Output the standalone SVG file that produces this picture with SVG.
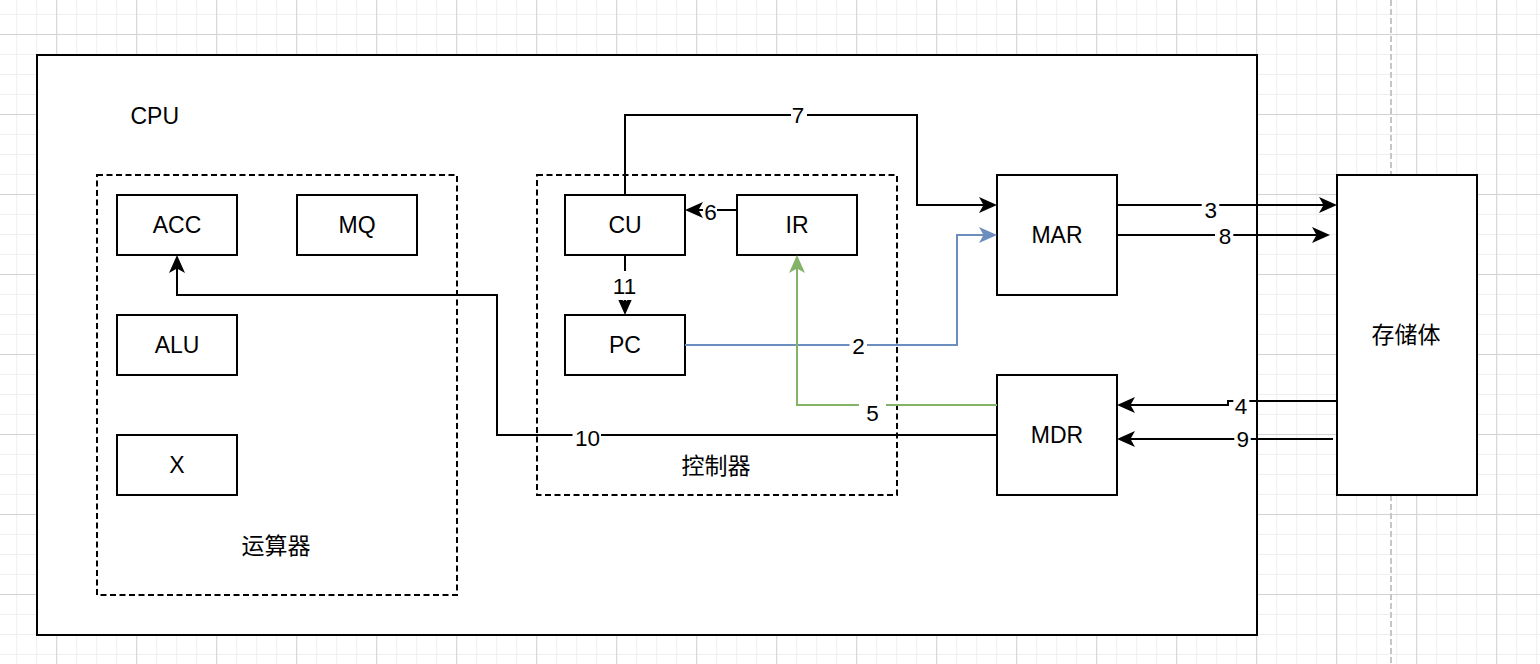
<svg xmlns="http://www.w3.org/2000/svg" width="1540" height="664" viewBox="0 0 1540 664">
<style>
.box{fill:#fff;stroke:#000;stroke-width:2}
.grp{fill:none;stroke:#000;stroke-width:2;stroke-dasharray:6 3.5}
.nt{font-family:"Liberation Sans",Arial,sans-serif;font-size:23px;fill:#000;text-anchor:middle}
.cj{font-family:"Liberation Sans","Noto Sans CJK SC",sans-serif;font-size:23px;fill:#000;text-anchor:middle}
.el{font-family:"Liberation Sans",Arial,sans-serif;font-size:22.5px;fill:#000;text-anchor:middle}
.lb{fill:#fff;stroke:none}
.ek{fill:none;stroke:#000;stroke-width:2;marker-end:url(#ak)}
.eb{fill:none;stroke:#6c8ebf;stroke-width:2;marker-end:url(#ab)}
.eg{fill:none;stroke:#82b366;stroke-width:2;marker-end:url(#ag)}
</style>
<defs>
<pattern id="minor" x="16.2" y="14" width="20" height="20" patternUnits="userSpaceOnUse">
<path d="M0.5 0V20M0 0.5H20" stroke="#efefef" stroke-width="1" fill="none"/>
</pattern>
<pattern id="major" x="56.2" y="34" width="80" height="80" patternUnits="userSpaceOnUse">
<path d="M0.5 0V80M0 0.5H80" stroke="#d3d3d3" stroke-width="1" fill="none"/>
</pattern>
<marker id="ak" markerUnits="userSpaceOnUse" markerWidth="19" markerHeight="18" refX="13" refY="9" orient="auto" overflow="visible">
<path d="M0,1 L18,9 L0,17 L4.5,9 Z" fill="#000"/>
</marker>
<marker id="ab" markerUnits="userSpaceOnUse" markerWidth="19" markerHeight="18" refX="13" refY="9" orient="auto" overflow="visible">
<path d="M0,1 L18,9 L0,17 L4.5,9 Z" fill="#6c8ebf"/>
</marker>
<marker id="ag" markerUnits="userSpaceOnUse" markerWidth="19" markerHeight="18" refX="13" refY="9" orient="auto" overflow="visible">
<path d="M0,1 L18,9 L0,17 L4.5,9 Z" fill="#82b366"/>
</marker>
</defs>
<rect width="1540" height="664" fill="#fff"/>
<rect width="1540" height="664" fill="url(#minor)"/>
<rect width="1540" height="664" fill="url(#major)"/>
<line x1="1391" y1="0" x2="1391" y2="664" stroke="#c6c6c6" stroke-width="2" stroke-dasharray="6 3"/>

<g id="cpu">
<rect class="box" x="37" y="55" width="1220" height="580"/>
<text x="130.5" y="124" font-family="Liberation Sans,Arial,sans-serif" font-size="23" fill="#000">CPU</text>
</g>
<g id="alu-group">
<rect class="grp" x="97" y="175" width="360" height="420"/>
<text class="cj" x="276" y="554">运算器</text>
</g>
<g id="ctrl-group">
<rect class="grp" x="537" y="175" width="360" height="320"/>
<text class="cj" x="716" y="474">控制器</text>
</g>
<g id="acc"><rect class="box" x="117" y="195" width="120" height="60"/><text class="nt" x="177" y="233">ACC</text></g>
<g id="mq"><rect class="box" x="297" y="195" width="120" height="60"/><text class="nt" x="357" y="233">MQ</text></g>
<g id="alu"><rect class="box" x="117" y="315" width="120" height="60"/><text class="nt" x="177" y="353">ALU</text></g>
<g id="x"><rect class="box" x="117" y="435" width="120" height="60"/><text class="nt" x="177" y="473">X</text></g>
<g id="cu"><rect class="box" x="565" y="195" width="120" height="60"/><text class="nt" x="625" y="233">CU</text></g>
<g id="ir"><rect class="box" x="737" y="195" width="120" height="60"/><text class="nt" x="797" y="233">IR</text></g>
<g id="pc"><rect class="box" x="565" y="315" width="120" height="60"/><text class="nt" x="625" y="353">PC</text></g>
<g id="mar"><rect class="box" x="997" y="175" width="120" height="120"/><text class="nt" x="1057" y="243">MAR</text></g>
<g id="mdr"><rect class="box" x="997" y="375" width="120" height="120"/><text class="nt" x="1057" y="443">MDR</text></g>
<g id="memory"><rect class="box" x="1337" y="175" width="140" height="320"/><text class="cj" x="1406" y="343">存储体</text></g>

<g id="connectors">
<path class="ek" d="M625,195 V115 H917 V205 H992"/>
<path class="ek" d="M737,210 H690"/>
<path class="ek" d="M625,255 V310"/>
<path class="eb" d="M685,345 H957 V235 H992"/>
<path class="eg" d="M997,405 H797 V260"/>
<path class="ek" d="M997,435 H497 V295 H177 V260"/>
<path class="ek" d="M1117,205 H1332"/>
<path class="ek" d="M1117,235 H1325"/>
<path class="ek" d="M1337,401 H1228 V405 H1122"/>
<path class="ek" d="M1333,439 H1122"/>

<rect class="lb" x="791" y="105" width="16" height="22"/><text class="el" x="798" y="123">7</text>
<rect class="lb" x="703" y="200" width="14" height="22"/><text class="el" x="710.5" y="220">6</text>
<rect class="lb" x="611" y="271" width="27" height="29"/><text class="el" x="624.5" y="294">11</text>
<rect class="lb" x="849.5" y="335" width="17.5" height="22"/><text class="el" x="858.5" y="354">2</text>
<rect class="lb" x="859" y="400" width="27" height="24"/><text class="el" x="872.5" y="421">5</text>
<rect class="lb" x="572.5" y="425" width="28.5" height="24"/><text class="el" x="587.5" y="446">10</text>
<rect class="lb" x="1201.7" y="196" width="17.6" height="24"/><text class="el" x="1210.7" y="218">3</text>
<rect class="lb" x="1215" y="225" width="18.3" height="22"/><text class="el" x="1225" y="244">8</text>
<rect class="lb" x="1233.3" y="396" width="16" height="22"/><text class="el" x="1241" y="414">4</text>
<rect class="lb" x="1234.3" y="428" width="16.4" height="22"/><text class="el" x="1242.7" y="447">9</text>
</g>
</svg>
